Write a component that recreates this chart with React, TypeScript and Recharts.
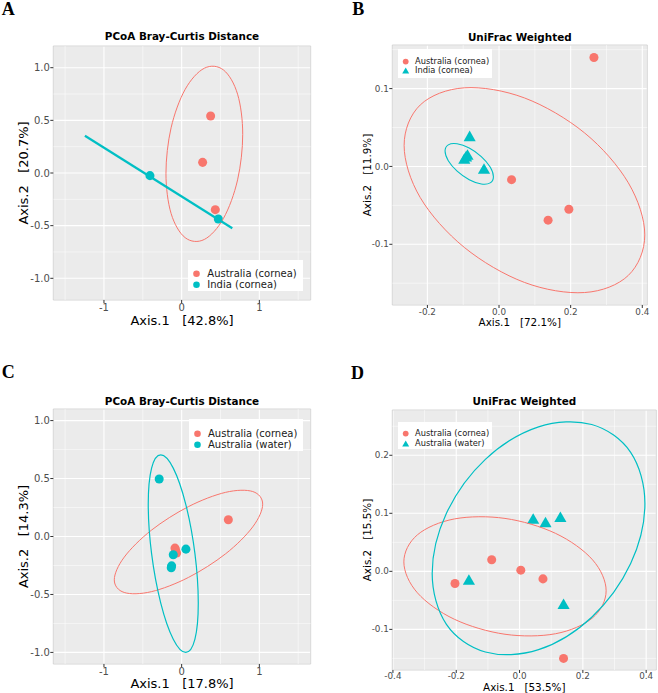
import React from "react";
import {
  ScatterChart,
  Scatter,
  XAxis,
  YAxis,
  ZAxis,
  CartesianGrid,
  ReferenceLine,
  ReferenceArea,
  Legend,
} from "recharts";

const RED = "#F8766D";
const TEAL = "#00BFC4";
const FONT = "'DejaVu Sans', Verdana, sans-serif";
const SERIF = "'Liberation Serif', 'Times New Roman', serif";
const GAP = "\u00A0\u00A0\u00A0";

// ---- A: PCoA Bray-Curtis, Australia vs India (cornea)
const aAustralia = [
  { x: 0.373, y: 0.541 },
  { x: 0.27, y: 0.101 },
  { x: 0.433, y: -0.348 },
];
const aIndia = [
  { x: -0.408, y: -0.025 },
  { x: 0.472, y: -0.437 },
];
const aIndiaLine = [
  { x: -1.245, y: 0.354 },
  { x: 0.652, y: -0.525 },
];
const aAustraliaEllipse = [
  { x: 0.786, y: 0.367 }, { x: 0.72, y: -0.065 }, { x: 0.539, y: -0.43 },
  { x: 0.292, y: -0.631 }, { x: 0.045, y: -0.614 }, { x: -0.136, y: -0.384 },
  { x: -0.202, y: -0.003 }, { x: -0.136, y: 0.429 }, { x: 0.045, y: 0.794 },
  { x: 0.292, y: 0.995 }, { x: 0.539, y: 0.978 }, { x: 0.72, y: 0.748 },
];

// ---- B: UniFrac weighted, Australia vs India (cornea)
const bAustralia = [
  { x: 0.265, y: 0.14 },
  { x: 0.035, y: -0.017 },
  { x: 0.137, y: -0.069 },
  { x: 0.195, y: -0.055 },
];
const bIndia = [
  { x: -0.097, y: 0.008 },
  { x: -0.092, y: 0.011 },
  { x: -0.088, y: 0.013 },
  { x: -0.082, y: 0.037 },
  { x: -0.042, y: -0.005 },
];
const bAustraliaEllipse = [
  { x: 0.407, y: -0.088 }, { x: 0.361, y: -0.14 }, { x: 0.239, y: -0.162 },
  { x: 0.071, y: -0.149 }, { x: -0.097, y: -0.104 }, { x: -0.22, y: -0.04 },
  { x: -0.265, y: 0.027 }, { x: -0.22, y: 0.079 }, { x: -0.097, y: 0.101 },
  { x: 0.071, y: 0.088 }, { x: 0.239, y: 0.043 }, { x: 0.361, y: -0.021 },
];
const bIndiaEllipse = [
  { x: -0.0157, y: -0.0131 }, { x: -0.0247, y: -0.0008 }, { x: -0.0495, y: 0.0126 },
  { x: -0.0832, y: 0.0236 }, { x: -0.117, y: 0.0291 }, { x: -0.1417, y: 0.0277 },
  { x: -0.1507, y: 0.0197 }, { x: -0.1417, y: 0.0074 }, { x: -0.117, y: -0.006 },
  { x: -0.0832, y: -0.017 }, { x: -0.0495, y: -0.0225 }, { x: -0.0247, y: -0.0211 },
];

// ---- C: PCoA Bray-Curtis, Australia cornea vs water
const cCornea = [
  { x: 0.601, y: 0.144 },
  { x: -0.086, y: -0.1 },
  { x: -0.077, y: -0.121 },
  { x: -0.065, y: -0.143 },
];
const cWater = [
  { x: -0.289, y: 0.496 },
  { x: 0.055, y: -0.109 },
  { x: -0.108, y: -0.158 },
  { x: -0.129, y: -0.253 },
  { x: -0.134, y: -0.27 },
];
const cCorneaEllipse = [
  { x: 1.043, y: 0.279 }, { x: 0.915, y: 0.083 }, { x: 0.566, y: -0.149 },
  { x: 0.088, y: -0.353 }, { x: -0.39, y: -0.476 }, { x: -0.739, y: -0.483 },
  { x: -0.867, y: -0.374 }, { x: -0.739, y: -0.178 }, { x: -0.39, y: 0.054 },
  { x: 0.088, y: 0.258 }, { x: 0.566, y: 0.381 }, { x: 0.915, y: 0.388 },
];
const cWaterEllipse = [
  { x: 0.214, y: -0.574 }, { x: 0.171, y: -0.148 }, { x: 0.053, y: 0.278 },
  { x: -0.108, y: 0.59 }, { x: -0.269, y: 0.704 }, { x: -0.387, y: 0.59 },
  { x: -0.43, y: 0.278 }, { x: -0.387, y: -0.148 }, { x: -0.269, y: -0.574 },
  { x: -0.108, y: -0.886 }, { x: 0.053, y: -1.0 }, { x: 0.171, y: -0.886 },
];

// ---- D: UniFrac weighted, Australia cornea vs water
const dCornea = [
  { x: -0.204, y: -0.021 },
  { x: -0.088, y: 0.02 },
  { x: 0.004, y: 0.002 },
  { x: 0.074, y: -0.013 },
  { x: 0.139, y: -0.15 },
];
const dWater = [
  { x: -0.16, y: -0.017 },
  { x: 0.043, y: 0.088 },
  { x: 0.082, y: 0.082 },
  { x: 0.129, y: 0.091 },
  { x: 0.139, y: -0.059 },
];
const dCorneaEllipse = [
  { x: 0.2735, y: -0.0335 }, { x: 0.2307, y: 0.0198 }, { x: 0.1138, y: 0.0654 },
  { x: -0.046, y: 0.0912 }, { x: -0.2058, y: 0.0903 }, { x: -0.3227, y: 0.0629 },
  { x: -0.3655, y: 0.0163 }, { x: -0.3227, y: -0.037 }, { x: -0.2058, y: -0.0826 },
  { x: -0.046, y: -0.1084 }, { x: 0.1138, y: -0.1075 }, { x: 0.2307, y: -0.0801 },
];
const dWaterEllipse = [
  { x: 0.396, y: 0.117 }, { x: 0.351, y: 0.205 }, { x: 0.228, y: 0.253 },
  { x: 0.06, y: 0.249 }, { x: -0.108, y: 0.193 }, { x: -0.231, y: 0.1 },
  { x: -0.276, y: -0.0036 }, { x: -0.231, y: -0.0914 }, { x: -0.108, y: -0.139 },
  { x: 0.06, y: -0.135 }, { x: 0.228, y: -0.079 }, { x: 0.351, y: 0.0134 },
];

// ---- axes
const pcoaTicksX = [-1, 0, 1];
const pcoaMinorX = [-1.5, -0.5, 0.5, 1.5];
const pcoaTicksY = [-1, -0.5, 0, 0.5, 1];
const pcoaMinorY = [-0.75, -0.25, 0.25, 0.75];
const bTicksX = [-0.2, 0, 0.2, 0.4];
const bMinorX = [-0.1, 0.1, 0.3];
const bTicksY = [-0.1, 0, 0.1];
const bMinorY = [-0.15, -0.05, 0.05, 0.15];
const dTicksX = [-0.4, -0.2, 0, 0.2, 0.4];
const dMinorX = [-0.3, -0.1, 0.1, 0.3];
const dTicksY = [-0.1, 0, 0.1, 0.2];
const dMinorY = [-0.15, -0.05, 0.05, 0.15, 0.25];

type Pt = { x: number; y: number };
type Series = {
  name: string;
  data: Pt[];
  color: string;
  kind: "points" | "path" | "loop";
  shape?: "circle" | "triangle";
  width?: number;
};

// closed smooth curve (Catmull-Rom) through the pixel points Recharts computed
const ringLine = (color: string, width: number) => (props: any) => {
  const pts = props.points || [];
  const n = pts.length;
  if (n < 3) return <g />;
  let d = `M${pts[0].x},${pts[0].y}`;
  for (let i = 0; i < n; i++) {
    const p0 = pts[(i - 1 + n) % n];
    const p1 = pts[i];
    const p2 = pts[(i + 1) % n];
    const p3 = pts[(i + 2) % n];
    d += ` C${p1.x + (p2.x - p0.x) / 6},${p1.y + (p2.y - p0.y) / 6} ${p2.x - (p3.x - p1.x) / 6},${p2.y - (p3.y - p1.y) / 6} ${p2.x},${p2.y}`;
  }
  return <path d={d + "Z"} fill="none" stroke={color} strokeWidth={width} />;
};

const makeLegend = (lg: any) => (props: any) => (
  <div
    style={{
      background: "#FFFFFF",
      width: lg.w,
      paddingTop: lg.padTop,
      paddingBottom: lg.padBottom,
      fontFamily: FONT,
      fontSize: lg.font,
      color: "#1A1A1A",
    }}
  >
    {(props.payload || [])
      .filter((p: any) => p.type !== "none")
      .map((p: any) => (
        <div key={p.value} style={{ height: lg.rowH, display: "flex", alignItems: "center" }}>
          <svg width={lg.textX} height={lg.rowH} style={{ flex: "none", display: "block" }}>
            {p.type === "triangle" ? (
              <polygon
                points={`${lg.markX - lg.r * 1.2},${lg.rowH / 2 + lg.r} ${lg.markX + lg.r * 1.2},${lg.rowH / 2 + lg.r} ${lg.markX},${lg.rowH / 2 - lg.r * 1.1}`}
                fill={p.color}
              />
            ) : (
              <circle cx={lg.markX} cy={lg.rowH / 2} r={lg.r} fill={p.color} />
            )}
          </svg>
          <span style={{ lineHeight: `${lg.rowH}px`, whiteSpace: "nowrap" }}>{p.value}</span>
        </div>
      ))}
  </div>
);

function Panel(p: any) {
  const fmtX = (v: number) => (p.intX ? String(v) : v.toFixed(1));
  const tickStyle = { fill: "#4D4D4D", fontSize: p.tickFont, fontFamily: FONT };
  return (
    <div style={{ position: "absolute", left: p.left, top: p.top, width: p.w, height: p.h }}>
      <ScatterChart
        width={p.w}
        height={p.h}
        margin={{ top: p.plot.top, right: p.w - p.plot.right, bottom: 0, left: 0 }}
      >
        <CartesianGrid stroke="#FFFFFF" strokeWidth={1.1} fill="#EBEBEB" fillOpacity={1} />
        {p.xMinor.map((v: number) => (
          <ReferenceLine key={"mx" + v} x={v} stroke="#FFFFFF" strokeWidth={0.5} />
        ))}
        {p.yMinor.map((v: number) => (
          <ReferenceLine key={"my" + v} y={v} stroke="#FFFFFF" strokeWidth={0.5} />
        ))}
        <ReferenceArea
          x1={p.xDomain[0]}
          x2={p.xDomain[1]}
          y1={p.yDomain[0]}
          y2={p.yDomain[1]}
          fill="none"
          stroke="#CCCCCC"
          strokeWidth={0.8}
          ifOverflow="visible"
        />
        <XAxis
          type="number"
          dataKey="x"
          domain={p.xDomain}
          ticks={p.xTicks}
          allowDataOverflow
          interval={0}
          height={p.h - p.plot.bottom}
          tickFormatter={fmtX}
          tick={tickStyle}
          tickSize={3}
          tickMargin={p.xTickMargin}
          tickLine={{ stroke: "#333333" }}
          axisLine={false}
          label={{
            value: p.xTitle,
            position: "insideBottom",
            offset: p.h - p.xTitleBase,
            style: { fontSize: p.titleFont, fill: "#000000", fontFamily: FONT },
          }}
        />
        <YAxis
          type="number"
          dataKey="y"
          domain={p.yDomain}
          ticks={p.yTicks}
          allowDataOverflow
          interval={0}
          width={p.plot.left}
          tickFormatter={(v: number) => v.toFixed(1)}
          tick={tickStyle}
          tickSize={3}
          tickMargin={0.5}
          tickLine={{ stroke: "#333333" }}
          axisLine={false}
          label={{
            value: p.yTitle,
            angle: -90,
            position: "insideLeft",
            offset: p.yTitleX,
            style: { fontSize: p.titleFont, fill: "#000000", fontFamily: FONT, textAnchor: "middle" },
          }}
        />
        <ZAxis range={[p.markerArea, p.markerArea]} />
        {p.series.map((s: Series, i: number) =>
          s.kind === "points" ? (
            <Scatter
              key={i}
              name={s.name}
              data={s.data}
              fill={s.color}
              shape={s.shape || "circle"}
              legendType={s.shape || "circle"}
              isAnimationActive={false}
            />
          ) : (
            <Scatter
              key={i}
              name={s.name}
              data={s.data}
              fill="none"
              stroke={s.color}
              line={
                s.kind === "loop"
                  ? ringLine(s.color, s.width || 1)
                  : { stroke: s.color, strokeWidth: s.width || 1 }
              }
              shape={() => <g />}
              legendType="none"
              isAnimationActive={false}
            />
          )
        )}
        <Legend
          layout="vertical"
          align="center"
          verticalAlign="middle"
          wrapperStyle={{ left: p.legend.x, top: p.legend.y, width: p.legend.w }}
          content={makeLegend(p.legend)}
        />
      </ScatterChart>
      <svg
        width={p.w}
        height={p.h}
        style={{ position: "absolute", left: 0, top: 0, pointerEvents: "none" }}
      >
        <text x={p.letterX} y={p.letterY} fontFamily={SERIF} fontWeight="bold" fontSize={18} fill="#000">
          {p.letter}
        </text>
        <text
          x={(p.plot.left + p.plot.right) / 2}
          y={p.titleBase}
          textAnchor="middle"
          fontFamily={FONT}
          fontWeight="bold"
          fontSize={10.4}
          fill="#000"
        >
          {p.title}
        </text>
      </svg>
    </div>
  );
}

const bigLegend = { font: 10, rowH: 11.6, r: 3.3, markX: 8.5, textX: 19 };
const smallLegend = { font: 8.3, rowH: 9.2, r: 2.9, markX: 7.7, textX: 17 };

export default function App() {
  return (
    <div style={{ position: "absolute", left: 0, top: 0, width: 658, height: 693, background: "#FFFFFF" }}>
      <Panel
        left={0}
        top={0}
        w={329}
        h={340}
        letter="A"
        letterX={1.7}
        letterY={15}
        title="PCoA Bray-Curtis Distance"
        titleBase={40.4}
        plot={{ left: 53.3, right: 310.7, top: 46, bottom: 300 }}
        xDomain={[-1.652, 1.661]}
        yDomain={[-1.206, 1.206]}
        xTicks={pcoaTicksX}
        yTicks={pcoaTicksY}
        xMinor={pcoaMinorX}
        yMinor={pcoaMinorY}
        intX
        tickFont={10}
        titleFont={13}
        xTickMargin={1}
        xTitle={`Axis.1${GAP}[42.8%]`}
        yTitle={`Axis.2${GAP}[20.7%]`}
        xTitleBase={325}
        yTitleX={23}
        markerArea={34}
        legend={{ ...bigLegend, x: 188.3, y: 260, w: 115, padTop: 7.8, padBottom: 0 }}
        series={[
          { name: "Australia (cornea)", data: aAustralia, color: RED, kind: "points" },
          { name: "India (cornea)", data: aIndia, color: TEAL, kind: "points" },
          { name: "ellipse", data: aAustraliaEllipse, color: RED, kind: "loop", width: 1 },
          { name: "line", data: aIndiaLine, color: TEAL, kind: "path", width: 2.2 },
        ]}
      />
      <Panel
        left={329}
        top={0}
        w={329}
        h={340}
        letter="B"
        letterX={23.3}
        letterY={15}
        title="UniFrac Weighted"
        titleBase={40.7}
        plot={{ left: 63.3, right: 318.3, top: 45, bottom: 305 }}
        xDomain={[-0.298, 0.414]}
        yDomain={[-0.178, 0.156]}
        xTicks={bTicksX}
        yTicks={bTicksY}
        xMinor={bMinorX}
        yMinor={bMinorY}
        tickFont={8.8}
        titleFont={10.4}
        xTickMargin={0.5}
        xTitle={`Axis.1${GAP}[72.1%]`}
        yTitle={`Axis.2${GAP}[11.9%]`}
        xTitleBase={325.8}
        yTitleX={38.3}
        markerArea={26}
        legend={{ ...smallLegend, x: 69, y: 49.3, w: 93.7, padTop: 7.7, padBottom: 2.3 }}
        series={[
          { name: "Australia (cornea)", data: bAustralia, color: RED, kind: "points" },
          { name: "India (cornea)", data: bIndia, color: TEAL, kind: "points", shape: "triangle" },
          { name: "ellipse1", data: bAustraliaEllipse, color: RED, kind: "loop", width: 1 },
          { name: "ellipse2", data: bIndiaEllipse, color: TEAL, kind: "loop", width: 1.1 },
        ]}
      />
      <Panel
        left={0}
        top={340}
        w={329}
        h={353}
        letter="C"
        letterX={1.7}
        letterY={38.3}
        title="PCoA Bray-Curtis Distance"
        titleBase={64.7}
        plot={{ left: 53.3, right: 310.7, top: 69, bottom: 324 }}
        xDomain={[-1.652, 1.661]}
        yDomain={[-1.1, 1.1]}
        xTicks={pcoaTicksX}
        yTicks={pcoaTicksY}
        xMinor={pcoaMinorX}
        yMinor={pcoaMinorY}
        intX
        tickFont={10}
        titleFont={13}
        xTickMargin={1}
        xTitle={`Axis.1${GAP}[17.8%]`}
        yTitle={`Axis.2${GAP}[14.3%]`}
        xTitleBase={348}
        yTitleX={23.3}
        markerArea={34}
        legend={{ ...bigLegend, x: 189, y: 79, w: 114.3, padTop: 8.5, padBottom: 0 }}
        series={[
          { name: "Australia (cornea)", data: cCornea, color: RED, kind: "points" },
          { name: "Australia (water)", data: cWater, color: TEAL, kind: "points" },
          { name: "ellipse1", data: cCorneaEllipse, color: RED, kind: "loop", width: 1 },
          { name: "ellipse2", data: cWaterEllipse, color: TEAL, kind: "loop", width: 1.2 },
        ]}
      />
      <Panel
        left={329}
        top={340}
        w={329}
        h={353}
        letter="D"
        letterX={22}
        letterY={39}
        title="UniFrac Weighted"
        titleBase={65.4}
        plot={{ left: 63.3, right: 327.3, top: 70, bottom: 330 }}
        xDomain={[-0.402, 0.432]}
        yDomain={[-0.17, 0.278]}
        xTicks={dTicksX}
        yTicks={dTicksY}
        xMinor={dMinorX}
        yMinor={dMinorY}
        tickFont={8.8}
        titleFont={10.4}
        xTickMargin={0}
        xTitle={`Axis.1${GAP}[53.5%]`}
        yTitle={`Axis.2${GAP}[15.5%]`}
        xTitleBase={350.5}
        yTitleX={38.3}
        markerArea={26}
        legend={{ ...smallLegend, x: 69, y: 82.3, w: 93.7, padTop: 7.1, padBottom: 1.4 }}
        series={[
          { name: "Australia (cornea)", data: dCornea, color: RED, kind: "points" },
          { name: "Australia (water)", data: dWater, color: TEAL, kind: "points", shape: "triangle" },
          { name: "ellipse1", data: dCorneaEllipse, color: RED, kind: "loop", width: 1 },
          { name: "ellipse2", data: dWaterEllipse, color: TEAL, kind: "loop", width: 1.2 },
        ]}
      />
    </div>
  );
}
